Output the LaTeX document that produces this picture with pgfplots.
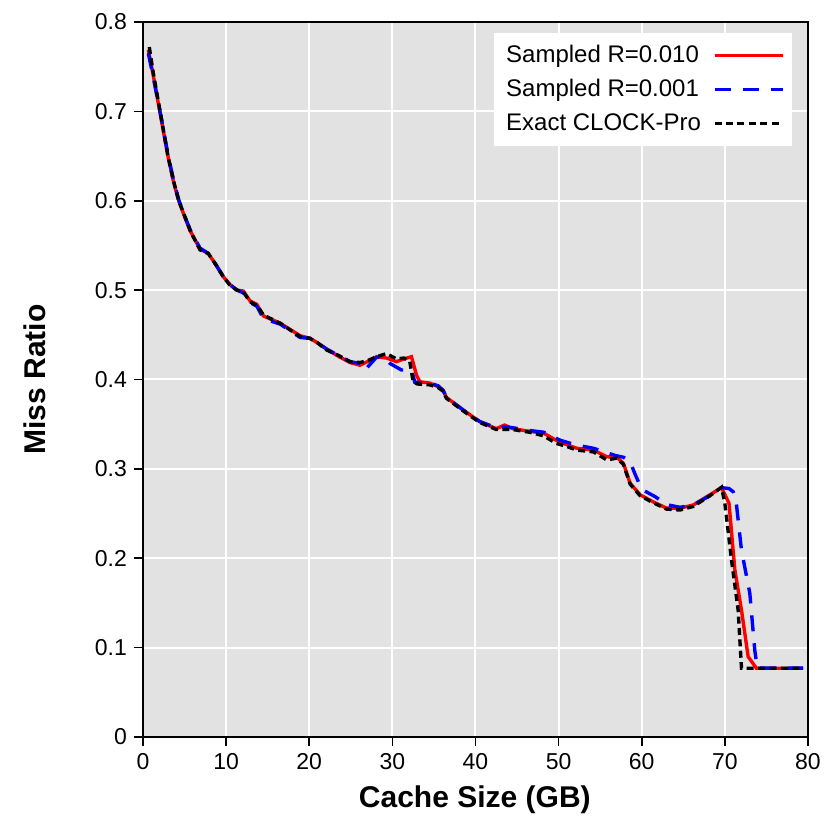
\documentclass[border=0pt]{standalone}
\usepackage{fontspec}
\setmainfont{Liberation Sans}
\usepackage{pgfplots}
\pgfplotsset{compat=1.18}
\definecolor{bg}{HTML}{E2E2E2}
\begin{document}
\begin{tikzpicture}
\useasboundingbox (-71.5pt,-41pt) rectangle (347pt,368.5pt);
\begin{axis}[
  at={(0,0)}, anchor=south west,
  scale only axis,
  width=332.5pt, height=357.5pt,
  xmin=0, xmax=80, ymin=0, ymax=0.8,
  xtick={0,10,...,80},
  ytick={0,0.1,...,0.8},
  yticklabel style={/pgf/number format/fixed,/pgf/number format/precision=1},
  /pgf/number format/assume math mode=true,
  tick label style={font=\fontsize{11.5}{13}\selectfont},
  tick align=outside,
  xtick pos=left, ytick pos=left,
  major tick length=4.5pt,
  tick style={black, line width=0.8pt},
  axis line style={black, line width=1pt},
  grid=major,
  major grid style={white, line width=1pt},
  axis background/.style={fill=bg},
  xlabel={\bfseries Cache Size (GB)},
  ylabel={\bfseries Miss Ratio},
  label style={font=\fontsize{15}{17}\selectfont},
  xlabel style={at={(axis description cs:0.499,-0.088)}, anchor=center},
  ylabel style={at={(axis description cs:-0.162,0.5)}, anchor=center},
  legend style={at={(0.977,0.985)}, anchor=north east, draw=none, fill=white,
    font=\fontsize{12}{14}\selectfont, row sep=3pt, column sep=4pt,
    inner xsep=4pt, inner ysep=4pt},
  legend cell align=left,
  legend plot pos=right,
  legend image code/.code={\draw[#1] (0pt,0pt) -- (34pt,0pt);},
]
% Sampled R=0.010
\addplot[red, line width=1.7pt] coordinates {
(0.64,0.769) (1.2,0.742) (2.25,0.688) (3.0,0.650) (3.65,0.622) (4.3,0.600)
(5.05,0.581) (5.7,0.566) (6.86,0.546) (7.86,0.541) (8.8,0.528) (9.66,0.515)
(10.5,0.506) (11.3,0.500) (12.07,0.499) (12.87,0.488) (13.7,0.484) (14.5,0.471)
(16.5,0.463) (18.9,0.449) (20.1,0.446) (21.0,0.441) (22.1,0.434) (23.5,0.426)
(24.9,0.419) (26.1,0.416) (27.0,0.420) (28.1,0.4255) (29.3,0.424) (30.5,0.420)
(31.4,0.423) (32.3,0.4255) (32.9,0.405) (33.3,0.3975) (34.5,0.396) (35.5,0.392)
(36.1,0.388) (36.5,0.380) (37.5,0.373) (38.5,0.366) (40.5,0.353) (42.5,0.345)
(43.5,0.349) (44.5,0.345) (46.5,0.342) (48.2,0.340) (49.7,0.332) (51.0,0.327)
(52.2,0.323) (54.2,0.321) (55.8,0.3136) (57.0,0.313) (57.8,0.306) (58.6,0.284)
(59.8,0.271) (61.4,0.263) (63.0,0.256) (64.6,0.256) (66.2,0.2596) (68.2,0.271)
(69.6,0.279) (70.5,0.2615) (71.2,0.187) (72.0,0.142) (72.8,0.0899) (73.8,0.0769)
(79.4,0.0769)
};
\addlegendentry{Sampled R=0.010}
% Sampled R=0.001
\addplot[blue, line width=1.7pt, dash pattern=on 8pt off 6pt] coordinates {
(0.64,0.765) (1.2,0.740) (2.25,0.690) (3.0,0.652) (3.65,0.624) (4.3,0.601)
(5.05,0.582) (5.7,0.567) (6.86,0.547) (7.86,0.541) (8.8,0.528) (9.66,0.515)
(10.5,0.506) (11.3,0.500) (12.07,0.497) (12.87,0.486) (13.7,0.482) (14.5,0.468)
(16.5,0.462) (18.9,0.447) (20.1,0.446) (21.0,0.441) (22.1,0.434) (23.5,0.427)
(24.9,0.420) (26.1,0.418) (26.7,0.4106) (28.1,0.425) (29.0,0.424) (29.7,0.418)
(31.1,0.4106) (32.3,0.411) (32.7,0.397) (34.5,0.396) (35.5,0.393) (36.1,0.388)
(36.5,0.380) (37.5,0.373) (38.5,0.366) (40.5,0.353) (42.5,0.346) (43.5,0.347)
(44.5,0.346) (46.5,0.343) (48.2,0.341) (50.2,0.332) (52.0,0.327) (54.2,0.323)
(55.2,0.320) (56.8,0.315) (57.8,0.313) (58.6,0.308) (59.2,0.294) (60.0,0.277)
(61.6,0.269) (63.0,0.260) (64.6,0.257) (66.2,0.2596) (68.2,0.270) (69.6,0.279)
(70.5,0.278) (71.0,0.2745) (71.3,0.268) (72.0,0.209) (73.0,0.161) (73.6,0.097)
(73.9,0.077) (79.4,0.077)
};
\addlegendentry{Sampled R=0.001}
% Exact CLOCK-Pro
\addplot[black, line width=1.7pt, dash pattern=on 3.5pt off 2.2pt] coordinates {
(0.76,0.772) (1.2,0.745) (2.25,0.690) (3.0,0.650) (3.65,0.623) (4.3,0.600)
(5.05,0.582) (5.7,0.566) (6.86,0.545) (7.86,0.541) (8.8,0.528) (9.66,0.515)
(10.5,0.505) (11.3,0.500) (12.07,0.498) (12.87,0.487) (13.7,0.483) (14.5,0.472)
(16.5,0.463) (18.9,0.448) (20.1,0.446) (21.0,0.441) (22.1,0.433) (23.5,0.427)
(24.9,0.420) (26.1,0.419) (27.0,0.421) (28.1,0.4255) (29.3,0.429) (30.5,0.423)
(31.4,0.424) (32.1,0.420) (32.5,0.3975) (33.0,0.395) (34.5,0.394) (35.5,0.391)
(36.1,0.387) (36.5,0.379) (37.5,0.372) (38.5,0.365) (40.5,0.352) (42.5,0.344)
(44.5,0.344) (46.5,0.341) (48.2,0.337) (49.7,0.3286) (51.0,0.325) (52.2,0.321)
(54.2,0.319) (55.8,0.310) (57.0,0.312) (57.8,0.305) (58.6,0.283) (59.8,0.270)
(61.4,0.262) (63.0,0.255) (64.6,0.254) (66.2,0.258) (68.2,0.270) (69.6,0.2794)
(70.0,0.2615) (70.8,0.198) (71.6,0.142) (72.0,0.0769) (79.4,0.0769)
};
\addlegendentry{Exact CLOCK-Pro}
\end{axis}
\end{tikzpicture}
\end{document}
